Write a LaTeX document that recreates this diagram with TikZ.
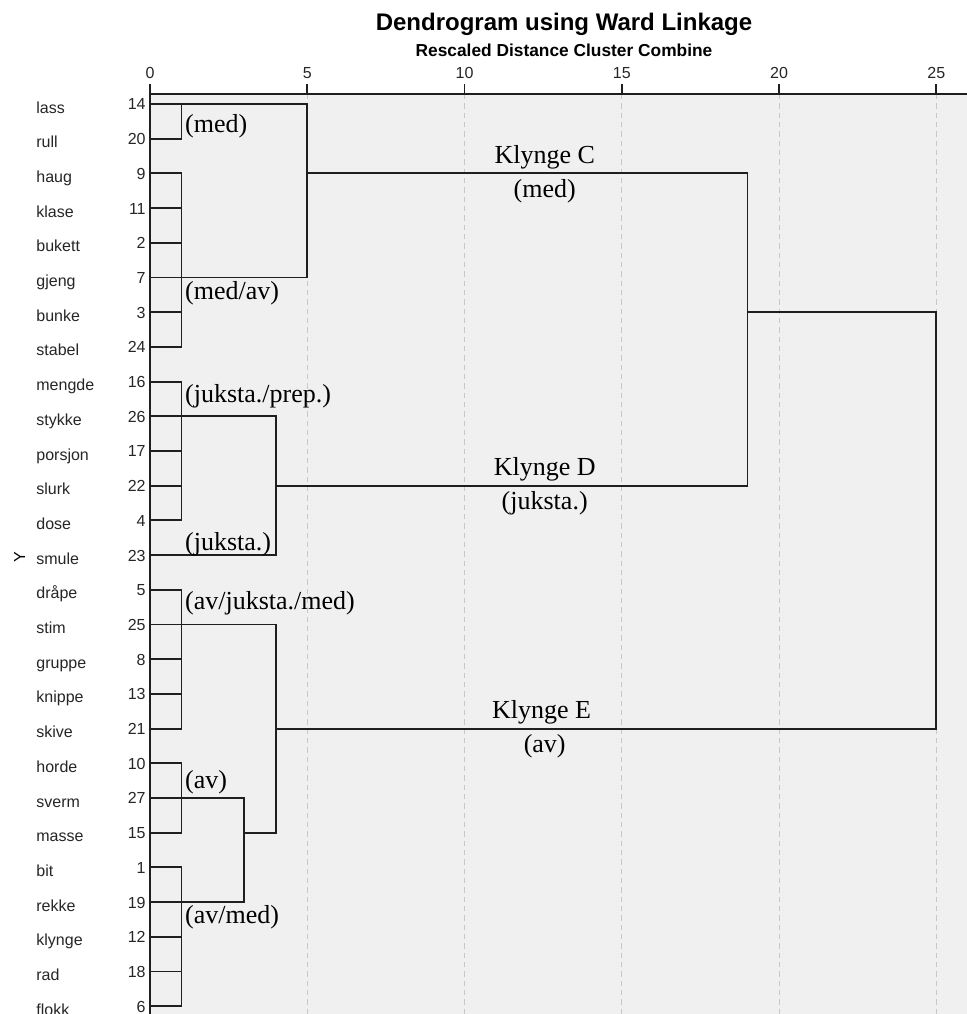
\documentclass[tikz,border=0pt]{standalone}
\usepackage{fontspec}
\setmainfont{Liberation Sans}
\newfontfamily\tnrfont{Liberation Serif}
\definecolor{plotbg}{HTML}{F0F0F0}
\definecolor{gridgray}{HTML}{C8C8C8}

\begin{document}
\begin{tikzpicture}[x=0.75pt, y=-0.75pt,
  branch/.style={line width=1.4pt, black!88, line cap=rect},
  gridline/.style={line width=0.75pt, gridgray, dash pattern=on 4pt off 3pt},
  leafname/.style={anchor=base west, inner sep=0pt, font=\fontsize{12pt}{14pt}\selectfont, black!85},
  leafnum/.style={anchor=base east, inner sep=0pt, font=\fontsize{12pt}{14pt}\selectfont, black!85},
  ticklabel/.style={inner sep=0pt, font=\fontsize{12pt}{14pt}\selectfont, black!85},
  note/.style={anchor=west, inner sep=0pt, font=\tnrfont\fontsize{19.5pt}{22pt}\selectfont},
  klynge/.style={anchor=base, inner sep=0pt, font=\tnrfont\fontsize{19.5pt}{22pt}\selectfont}]

\useasboundingbox (0,0) rectangle (967,1014);
\fill[white] (0,0) rectangle (967,1014);
\fill[plotbg] (150,94) rectangle (967,1014);

\node[anchor=base, inner sep=0pt, font=\bfseries\fontsize{18pt}{20pt}\selectfont] (title) at (564,30) {Dendrogram using Ward Linkage};
\node[anchor=base, inner sep=0pt, font=\bfseries\fontsize{13pt}{15pt}\selectfont] (subtitle) at (564,56) {Rescaled Distance Cluster Combine};
\node[rotate=90, inner sep=0pt, font=\fontsize{12pt}{14pt}\selectfont] (ylab) at (19.5,557) {Y};

\begin{scope}[xshift=112.5pt, yshift=-78pt, x=23.5875pt, y=-26.025pt]

% grid and axis
\foreach \d in {5,10,...,25}
    \draw[gridline] (\d,-0.29) -- (\d,26.3);
\draw[branch] (0,-0.29) -- (26,-0.29);
\draw[branch] (0,-0.29) -- (0,26.3);
\foreach \d in {0,5,...,25} {
    \draw[branch] (\d,-0.29) -- (\d,-0.55);
    \node[ticklabel] (t\d) at (\d,-0.89) {\d};
}

% leaves
\foreach \w/\n [count=\i from 0] in {lass/14, rull/20, haug/9, klase/11, bukett/2, gjeng/7, bunke/3, stabel/24,
    mengde/16, stykke/26, porsjon/17, slurk/22, dose/4, smule/23, dråpe/5, stim/25, gruppe/8, knippe/13,
    skive/21, horde/10, sverm/27, masse/15, bit/1, rekke/19, klynge/12, rad/18, flokk/6} {
    \coordinate (r\i) at (0,\i);
    \coordinate (s\i) at (1,\i);
    \node[leafname] (w\i) at (-3.62,\i+0.26) {\w};
    \node[leafnum] (n\i) at (-0.13,\i+0.17) {\n};
    \draw[branch] (r\i) -- (s\i);
}

% merges
\coordinate (kC) at (5,2);
\coordinate (kD) at (4,11);
\coordinate (kCD) at (19,6);
\coordinate (kAv) at (3,21);
\coordinate (kE) at (4,18);
\coordinate (kRoot) at (25,12);

\draw[branch] (s0) -- (s1);
\draw[branch] (s2) -- (s7);
\draw[branch] (s8) -- (s12);
\draw[branch] (s14) -- (s18);
\draw[branch] (s19) -- (s21);
\draw[branch] (s22) -- (s26);

\draw[branch] (s0) -| (kC) |- (s5);
\draw[branch] (s9) -| (kD) |- (r13);
\draw[branch] (kC) -| (kCD) |- (kD);
\draw[branch] (s20) -| (kAv) |- (s23);
\draw[branch] (s15) -| (kE) |- (kAv);
\draw[branch] (kCD) -| (kRoot) |- (kE);

% labels
\node[note] (nMed) at (1.11,0.63) {(med)};
\node[note] (nMedAv) at (1.11,5.45) {(med/av)};
\node[note] (nJukPrep) at (1.11,8.41) {(juksta./prep.)};
\node[note] (nJuk) at (1.11,12.68) {(juksta.)};
\node[note] (nAvJukMed) at (1.11,14.38) {(av/juksta./med)};
\node[note] (nAv) at (1.11,19.54) {(av)};
\node[note] (nAvMed) at (1.11,23.43) {(av/med)};

\node[klynge] (kCa) at (12.55,1.71) {Klynge C};
\node[klynge] (kCb) at (12.55,2.70) {(med)};
\node[klynge] (kDa) at (12.55,10.71) {Klynge D};
\node[klynge] (kDb) at (12.55,11.70) {(juksta.)};
\node[klynge] (kEa) at (12.45,17.71) {Klynge E};
\node[klynge] (kEb) at (12.55,18.70) {(av)};

\end{scope}
\end{tikzpicture}
\end{document}
